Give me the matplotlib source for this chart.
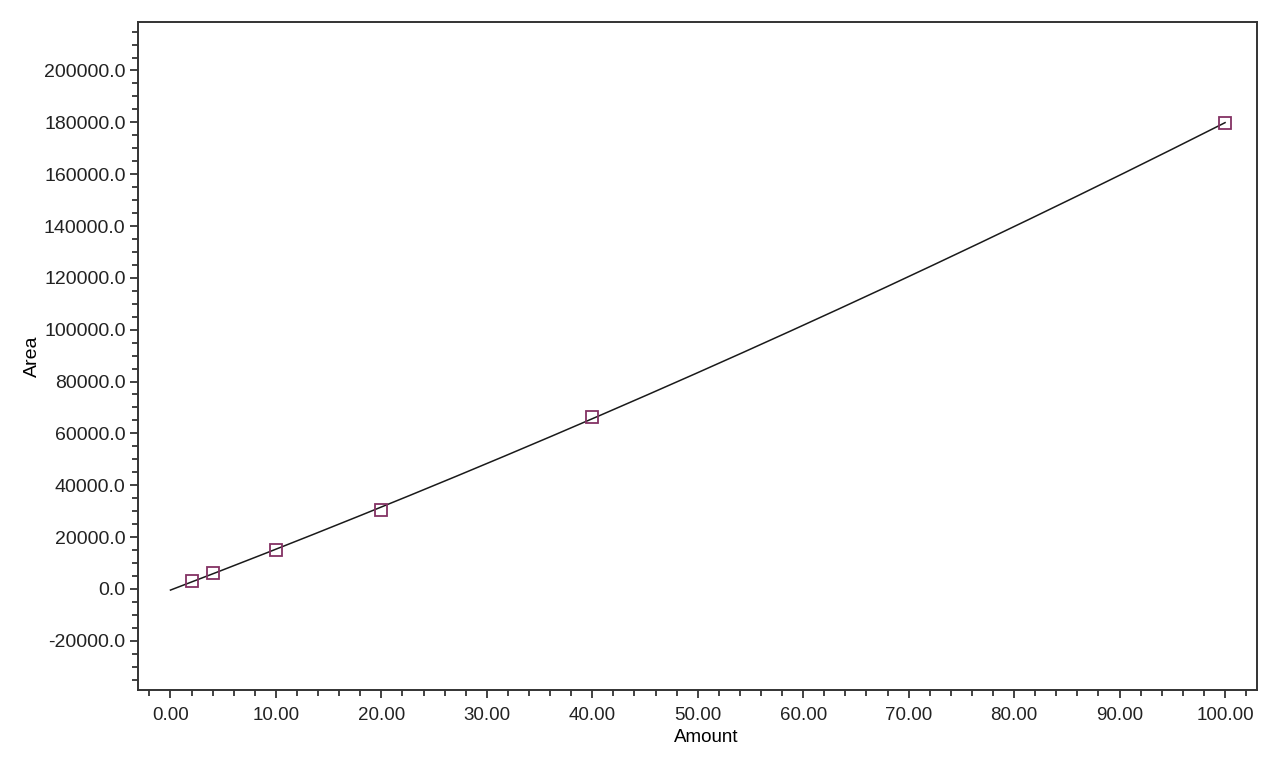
import matplotlib.pyplot as plt
import numpy as np
from matplotlib.ticker import MultipleLocator, FormatStrFormatter

plt.rcParams['font.family'] = ['Liberation Sans', 'DejaVu Sans']

# calibration points
amount = [2.0, 4.0, 10.0, 20.0, 40.0, 100.0]
area = [3090, 6050, 15060, 30500, 66400, 179800]

# quadratic calibration fit through the points
coef = np.polyfit(amount, area, 2)
fit_x = np.linspace(0, 100, 200)
fit_y = np.polyval(coef, fit_x)

fig = plt.figure(figsize=(12.8, 7.68), dpi=100)
ax = fig.add_axes([138 / 1280, 1 - 690 / 768, (1257 - 138) / 1280, (690 - 22) / 768])

ax.plot(fit_x, fit_y, color='#1a1a1a', lw=1.1)
ax.plot(amount, area, ls='none', marker='s', ms=8, mfc='none',
        mec='#833163', mew=1.3)

ax.set_xlim(-3.08, 103.03)
ax.set_ylim(-39000, 218700)

ax.xaxis.set_major_locator(MultipleLocator(10))
ax.xaxis.set_minor_locator(MultipleLocator(2))
ax.yaxis.set_major_locator(MultipleLocator(20000))
ax.yaxis.set_minor_locator(MultipleLocator(5000))
ax.xaxis.set_major_formatter(FormatStrFormatter('%.2f'))
ax.yaxis.set_major_formatter(FormatStrFormatter('%.1f'))

ax.tick_params(which='both', direction='out', colors='#222222', width=1.2)
ax.tick_params(which='major', length=6)
ax.tick_params(which='minor', length=4)
ax.tick_params(axis='x', pad=6.5, labelsize=13.5)
ax.tick_params(axis='y', pad=3, labelsize=14)

for s in ax.spines.values():
    s.set_linewidth(1.4)
    s.set_color('#333333')

ax.set_xlabel('Amount', fontsize=13.5)
ax.xaxis.set_label_coords(0.5076, -0.058)
ax.set_ylabel('Area', fontsize=14, labelpad=2)

fig.savefig('out.png', dpi=100)
